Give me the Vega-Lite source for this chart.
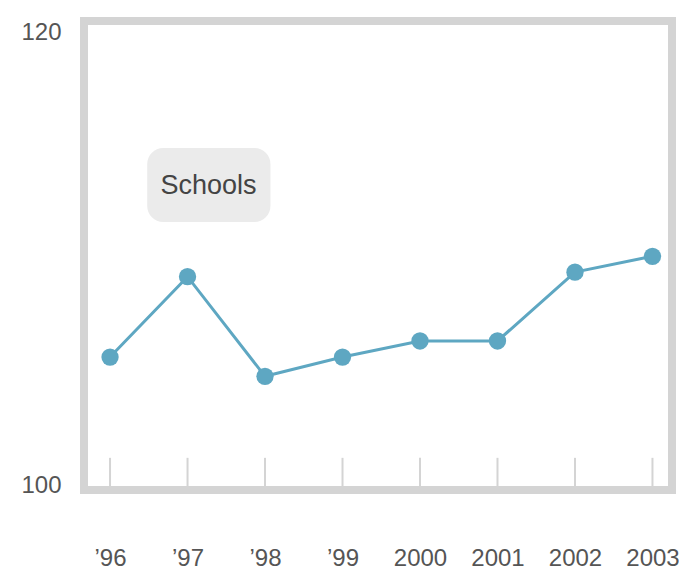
{
  "$schema": "https://vega.github.io/schema/vega-lite/v6.json",
  "width": 588,
  "height": 469,
  "autosize": {"type": "none"},
  "padding": {"left": 84, "top": 21, "right": 7, "bottom": 95},
  "background": "#ffffff",
  "config": {
    "view": {"stroke": "#d4d4d4", "strokeWidth": 8},
    "font": "Liberation Sans, sans-serif"
  },
  "data": {
    "values": [
      {"year": 1996, "value": 105.65},
      {"year": 1997, "value": 109.2},
      {"year": 1998, "value": 104.8},
      {"year": 1999, "value": 105.65},
      {"year": 2000, "value": 106.36},
      {"year": 2001, "value": 106.36},
      {"year": 2002, "value": 109.4},
      {"year": 2003, "value": 110.1}
    ]
  },
  "layer": [
    {
      "mark": {"type": "rule", "color": "#d4d4d4", "strokeWidth": 2},
      "encoding": {
        "x": {
          "field": "year",
          "type": "quantitative",
          "scale": {"domain": [1995.664, 2003.252], "nice": false, "zero": false},
          "axis": {
            "values": [1996, 1997, 1998, 1999, 2000, 2001, 2002, 2003],
            "format": "d",
            "labelExpr": "datum.value < 2000 ? '’' + substring(datum.label, 2, 4) : datum.label",
            "title": null,
            "domain": false,
            "ticks": false,
            "tickSize": 0,
            "grid": false,
            "labelBaseline": "middle",
            "labelPadding": 68,
            "labelFontSize": 24,
            "labelColor": "#555555",
            "labelFlush": false,
            "labelOverlap": false,
            "labelBound": false
          }
        },
        "y": {
          "datum": 99.78,
          "type": "quantitative",
          "scale": {"domain": [99.78, 120.49], "nice": false, "zero": false},
          "axis": {
            "values": [100, 120],
            "title": null,
            "domain": false,
            "ticks": false,
            "tickSize": 0,
            "grid": false,
            "labelAlign": "center",
            "labelBaseline": "middle",
            "labelPadding": 43,
            "labelFontSize": 24,
            "labelColor": "#555555",
            "labelFlush": false,
            "labelOverlap": false,
            "labelBound": false
          }
        },
        "y2": {"datum": 101.2}
      }
    },
    {
      "data": {"values": [{"label": "Schools"}]},
      "mark": {"type": "rect", "color": "#ebebeb", "cornerRadius": 16},
      "encoding": {
        "x": {"datum": 1996.48, "type": "quantitative"},
        "x2": {"datum": 1998.07},
        "y": {"datum": 114.88, "type": "quantitative"},
        "y2": {"datum": 111.61}
      }
    },
    {
      "data": {"values": [{"label": "Schools"}]},
      "mark": {"type": "text", "color": "#444444", "fontSize": 27, "baseline": "middle", "align": "center"},
      "encoding": {
        "x": {"datum": 1997.27, "type": "quantitative"},
        "y": {"datum": 113.2, "type": "quantitative"},
        "text": {"field": "label", "type": "nominal"}
      }
    },
    {
      "mark": {
        "type": "line",
        "color": "#5ea7c2",
        "strokeWidth": 3,
        "point": {"filled": true, "size": 300, "color": "#5ea7c2", "opacity": 1}
      },
      "encoding": {
        "x": {"field": "year", "type": "quantitative"},
        "y": {"field": "value", "type": "quantitative"}
      }
    }
  ]
}
